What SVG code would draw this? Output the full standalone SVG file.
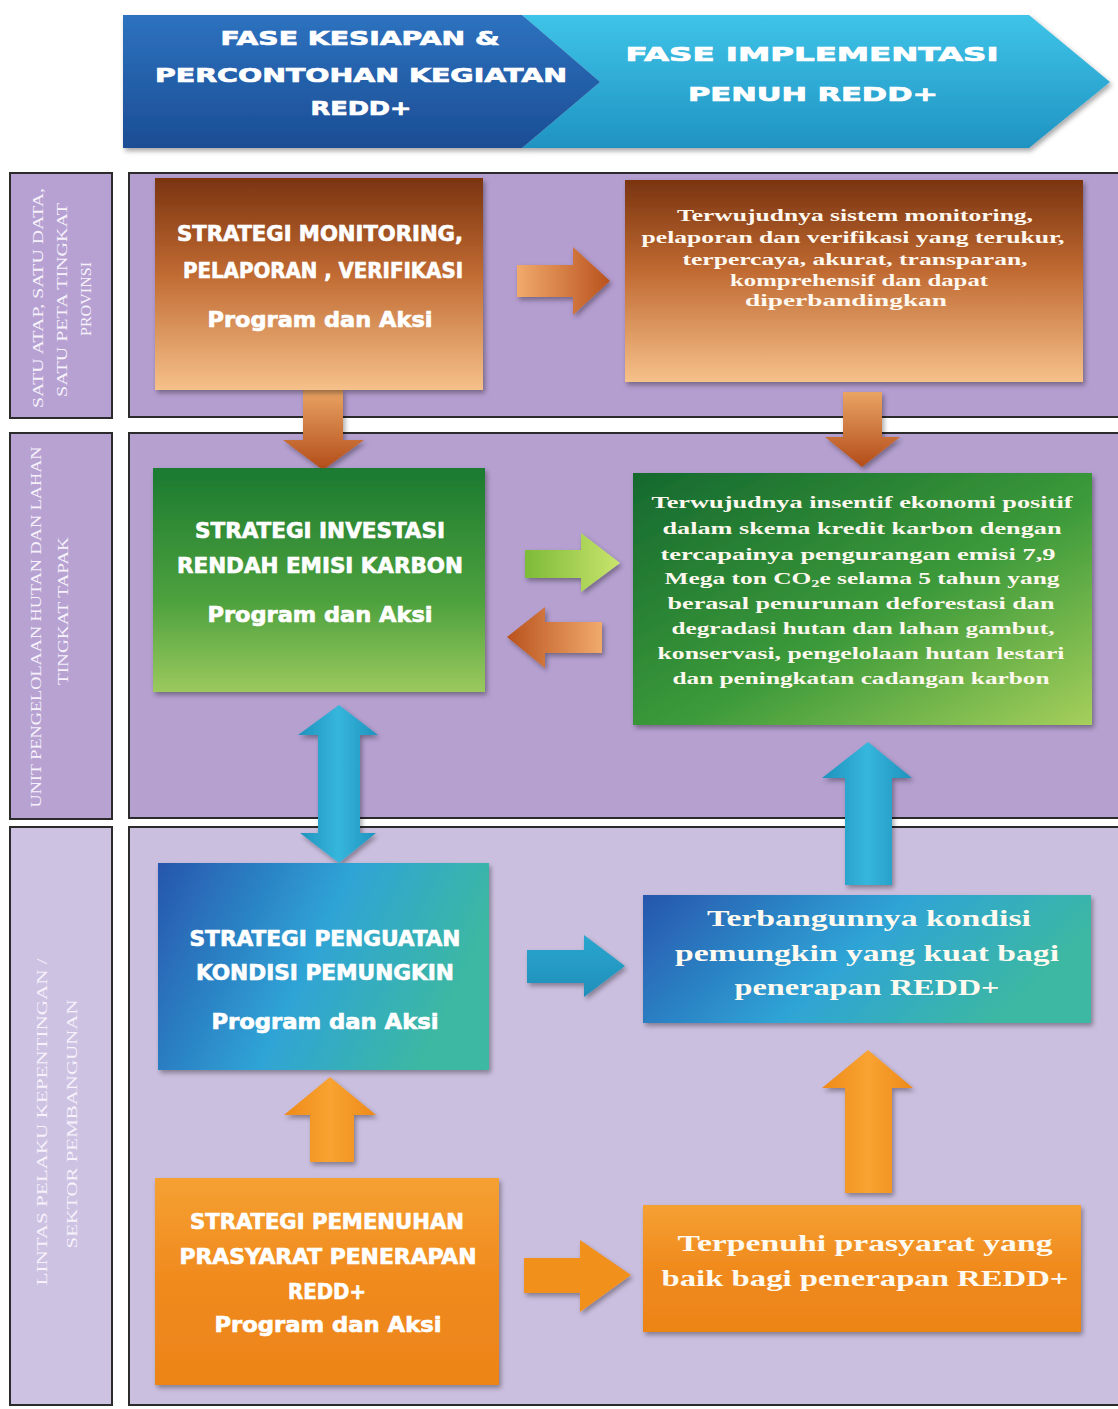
<svg xmlns="http://www.w3.org/2000/svg" width="1118" height="1409" viewBox="0 0 1118 1409">
<defs>
<style>
.hdr{font-family:"DejaVu Sans","Liberation Sans",sans-serif;font-weight:bold;font-size:19px;fill:#ffffff;stroke:#ffffff;stroke-width:0.7;text-anchor:middle}
.side{font-family:"Liberation Serif","DejaVu Serif",serif;font-size:14px;fill:#f6f1fb;text-anchor:middle}
.strat{font-family:"DejaVu Sans Condensed","Liberation Sans Narrow","Liberation Sans",sans-serif;font-stretch:condensed;font-weight:bold;font-size:21px;fill:#ffffff;stroke:#ffffff;stroke-width:0.6;text-anchor:middle}
.res{font-family:"Liberation Serif","DejaVu Serif",serif;font-weight:bold;font-size:17px;fill:#fff8ee;text-anchor:middle}
.resL{font-family:"Liberation Serif","DejaVu Serif",serif;font-weight:bold;font-size:24px;fill:#fffaf0;text-anchor:middle}
.panel{stroke:#2b2b2b;stroke-width:2}
.sidebox{stroke:#2b2b2b;stroke-width:2}
.box{filter:url(#shadow)}
</style>
<filter id="shadow" x="-10%" y="-10%" width="120%" height="125%">
<feDropShadow dx="2" dy="3" stdDeviation="2.5" flood-color="#000" flood-opacity="0.35"/>
</filter>
<linearGradient id="gDark" x1="0" y1="0" x2="0" y2="1"><stop offset="0" stop-color="#2d72bf"/><stop offset="1" stop-color="#1b4d94"/></linearGradient>
<linearGradient id="gLight" x1="0" y1="0" x2="0" y2="1"><stop offset="0" stop-color="#3fc4e8"/><stop offset="1" stop-color="#1f93c2"/></linearGradient>
<linearGradient id="gBrown" x1="0" y1="0" x2="0" y2="1"><stop offset="0" stop-color="#7a3410"/><stop offset="0.45" stop-color="#c06a32"/><stop offset="1" stop-color="#f6c18a"/></linearGradient>
<linearGradient id="gGreenL" x1="0" y1="0" x2="0" y2="1"><stop offset="0" stop-color="#1b7a30"/><stop offset="0.6" stop-color="#4ea23e"/><stop offset="1" stop-color="#9bc95e"/></linearGradient>
<linearGradient id="gGreenR" x1="0" y1="0" x2="1" y2="1"><stop offset="0" stop-color="#15692e"/><stop offset="0.55" stop-color="#3c9a3a"/><stop offset="1" stop-color="#a6cf5c"/></linearGradient>
<linearGradient id="gBlue" x1="0" y1="0" x2="1" y2="0.3"><stop offset="0" stop-color="#2756ad"/><stop offset="0.55" stop-color="#2fa4d6"/><stop offset="1" stop-color="#3cb8a2"/></linearGradient>
<linearGradient id="gOrange" x1="0" y1="0" x2="0" y2="1"><stop offset="0" stop-color="#f5a033"/><stop offset="0.5" stop-color="#f08a1d"/><stop offset="1" stop-color="#ec8418"/></linearGradient>
<linearGradient id="aBrownH" x1="0" y1="0" x2="1" y2="0"><stop offset="0" stop-color="#f1aa6c"/><stop offset="1" stop-color="#b9521d"/></linearGradient>
<linearGradient id="aBrownHL" x1="1" y1="0" x2="0" y2="0"><stop offset="0" stop-color="#f1aa6c"/><stop offset="1" stop-color="#b9521d"/></linearGradient>
<linearGradient id="aBrownV" x1="0" y1="0" x2="0" y2="1"><stop offset="0" stop-color="#e9a463"/><stop offset="1" stop-color="#b34c19"/></linearGradient>
<linearGradient id="aGreen" x1="0" y1="0" x2="1" y2="0"><stop offset="0" stop-color="#7dbb38"/><stop offset="1" stop-color="#c9e46c"/></linearGradient>
<linearGradient id="aBlue" x1="0" y1="0" x2="1" y2="0"><stop offset="0" stop-color="#1f92bd"/><stop offset="0.5" stop-color="#36b6dc"/><stop offset="1" stop-color="#1f92bd"/></linearGradient>
<linearGradient id="aBlueH" x1="0" y1="0" x2="0" y2="1"><stop offset="0" stop-color="#2aa6cf"/><stop offset="1" stop-color="#1f8fb9"/></linearGradient>
<linearGradient id="aOrange" x1="0" y1="0" x2="1" y2="0"><stop offset="0" stop-color="#ee8a1a"/><stop offset="0.5" stop-color="#f8a331"/><stop offset="1" stop-color="#ee8a1a"/></linearGradient>
</defs>

<rect x="0" y="0" width="1118" height="1409" fill="#ffffff"/>

<!-- Header -->
<g id="header" filter="url(#shadow)">
<polygon points="522,15 1029,15 1110,82 1029,148 522,148 600,82" fill="url(#gLight)"/>
<polygon points="123,15 522,15 600,82 522,148 123,148" fill="url(#gDark)"/>
</g>
<g id="header-text">
<text class="hdr" x="360" y="45" textLength="279" lengthAdjust="spacingAndGlyphs">FASE KESIAPAN &amp;</text>
<text class="hdr" x="361" y="82" textLength="412" lengthAdjust="spacingAndGlyphs">PERCONTOHAN KEGIATAN</text>
<text class="hdr" x="361" y="115" textLength="101" lengthAdjust="spacingAndGlyphs">REDD+</text>
<text class="hdr" x="812" y="61" textLength="373" lengthAdjust="spacingAndGlyphs">FASE IMPLEMENTASI</text>
<text class="hdr" x="813" y="101" textLength="250" lengthAdjust="spacingAndGlyphs">PENUH REDD+</text>
</g>

<!-- Panels -->
<g id="panels">
<rect class="panel" x="129" y="173" width="995" height="244" fill="#b49dcf"/>
<rect class="panel" x="129" y="433" width="995" height="385" fill="#b5a0d0"/>
<rect class="panel" x="129" y="827" width="995" height="578" fill="#cbbfdf"/>
</g>

<!-- Side labels -->
<g id="side-1">
<rect class="sidebox" x="10" y="173" width="102" height="245" fill="#b6a1d2"/>
<text class="side" transform="translate(38,298) rotate(-90)" y="5" textLength="220" lengthAdjust="spacingAndGlyphs">SATU  ATAP, SATU DATA,</text>
<text class="side" transform="translate(62,300) rotate(-90)" y="5" textLength="194" lengthAdjust="spacingAndGlyphs">SATU PETA  TINGKAT</text>
<text class="side" transform="translate(86,299) rotate(-90)" y="5" textLength="74" lengthAdjust="spacingAndGlyphs">PROVINSI</text>
</g>
<g id="side-2">
<rect class="sidebox" x="10" y="433" width="102" height="386" fill="#b7a2d2"/>
<text class="side" transform="translate(36,627) rotate(-90)" y="5" textLength="361" lengthAdjust="spacingAndGlyphs">UNIT PENGELOLAAN HUTAN DAN LAHAN</text>
<text class="side" transform="translate(63,611) rotate(-90)" y="5" textLength="148" lengthAdjust="spacingAndGlyphs">TINGKAT TAPAK</text>
</g>
<g id="side-3">
<rect class="sidebox" x="10" y="827" width="102" height="578" fill="#cdc2e2"/>
<text class="side" transform="translate(42,1122) rotate(-90)" y="5" textLength="327" lengthAdjust="spacingAndGlyphs">LINTAS PELAKU KEPENTINGAN /</text>
<text class="side" transform="translate(72,1124) rotate(-90)" y="5" textLength="249" lengthAdjust="spacingAndGlyphs">SEKTOR PEMBANGUNAN</text>
</g>

<!-- Connectors -->
<g id="connectors" filter="url(#shadow)">
<polygon points="517,265 573,265 573,247 610,281 573,315 573,297 517,297" fill="url(#aBrownH)"/>
<polygon points="303,390 343,390 343,440 364,440 323,470 283,440 303,440" fill="url(#aBrownV)"/>
<polygon points="843,392 882,392 882,437 900,437 862,467 825,437 843,437" fill="url(#aBrownV)"/>
<polygon points="525,550 581,550 581,533 620,563 581,592 581,578 525,578" fill="url(#aGreen)"/>
<polygon points="602,622 545,622 545,607 507,637 545,668 545,653 602,653" fill="url(#aBrownHL)"/>
<polygon points="339,705 378,735 360,735 360,833 376,833 339,863 300,833 318,833 318,735 298,735" fill="url(#aBlue)"/>
<polygon points="868,742 912,778 892,778 892,885 845,885 845,778 822,778" fill="url(#aBlue)"/>
<polygon points="527,950 584,950 584,935 625,966 584,997 584,983 527,983" fill="url(#aBlueH)"/>
<polygon points="330,1077 376,1115 354,1115 354,1162 310,1162 310,1115 284,1115" fill="url(#aOrange)"/>
<polygon points="524,1258 580,1258 580,1240 631,1275 580,1312 580,1293 524,1293" fill="#f2901f"/>
<polygon points="868,1050 913,1088 892,1088 892,1193 845,1193 845,1088 822,1088" fill="url(#aOrange)"/>
</g>

<!-- Nodes -->
<g id="strategi-monitoring">
<rect class="box" x="155" y="178" width="328" height="212" fill="url(#gBrown)"/>
<text class="strat" x="320" y="241" textLength="286" lengthAdjust="spacingAndGlyphs">STRATEGI MONITORING,</text>
<text class="strat" x="323" y="278" textLength="280" lengthAdjust="spacingAndGlyphs">PELAPORAN , VERIFIKASI</text>
<text class="strat" x="320" y="327" textLength="225" lengthAdjust="spacingAndGlyphs">Program dan Aksi</text>
</g>

<g id="hasil-monitoring">
<rect class="box" x="625" y="180" width="458" height="202" fill="url(#gBrown)"/>
<text class="res" x="855" y="221" textLength="356" lengthAdjust="spacingAndGlyphs">Terwujudnya sistem monitoring,</text>
<text class="res" x="853" y="243" textLength="423" lengthAdjust="spacingAndGlyphs">pelaporan dan verifikasi yang  terukur,</text>
<text class="res" x="855" y="265" textLength="345" lengthAdjust="spacingAndGlyphs">terpercaya, akurat, transparan,</text>
<text class="res" x="859" y="286" textLength="258" lengthAdjust="spacingAndGlyphs">komprehensif dan dapat</text>
<text class="res" x="846" y="306" textLength="202" lengthAdjust="spacingAndGlyphs">diperbandingkan</text>
</g>

<g id="strategi-investasi">
<rect class="box" x="153" y="468" width="332" height="224" fill="url(#gGreenL)"/>
<text class="strat" x="320" y="538" textLength="250" lengthAdjust="spacingAndGlyphs">STRATEGI INVESTASI</text>
<text class="strat" x="320" y="573" textLength="286" lengthAdjust="spacingAndGlyphs">RENDAH EMISI  KARBON</text>
<text class="strat" x="320" y="622" textLength="225" lengthAdjust="spacingAndGlyphs">Program dan Aksi</text>
</g>

<g id="hasil-investasi">
<rect class="box" x="633" y="473" width="459" height="252" fill="url(#gGreenR)"/>
<text class="res" x="862" y="508" textLength="421" lengthAdjust="spacingAndGlyphs">Terwujudnya insentif  ekonomi  positif</text>
<text class="res" x="862" y="534" textLength="399" lengthAdjust="spacingAndGlyphs">dalam  skema kredit karbon  dengan</text>
<text class="res" x="858" y="560" textLength="395" lengthAdjust="spacingAndGlyphs">tercapainya pengurangan emisi  7,9</text>
<text class="res" x="862" y="584" textLength="395" lengthAdjust="spacingAndGlyphs">Mega ton  CO<tspan font-size="11" dy="3">2</tspan><tspan dy="-3">e  selama 5 tahun yang</tspan></text>
<text class="res" x="861" y="609" textLength="387" lengthAdjust="spacingAndGlyphs">berasal  penurunan deforestasi dan</text>
<text class="res" x="863" y="634" textLength="383" lengthAdjust="spacingAndGlyphs">degradasi hutan dan lahan gambut,</text>
<text class="res" x="861" y="659" textLength="407" lengthAdjust="spacingAndGlyphs">konservasi, pengelolaan hutan lestari</text>
<text class="res" x="861" y="684" textLength="377" lengthAdjust="spacingAndGlyphs">dan peningkatan cadangan karbon</text>
</g>

<g id="strategi-penguatan">
<rect class="box" x="158" y="863" width="331" height="207" fill="url(#gBlue)"/>
<text class="strat" x="325" y="946" textLength="271" lengthAdjust="spacingAndGlyphs">STRATEGI PENGUATAN</text>
<text class="strat" x="325" y="980" textLength="258" lengthAdjust="spacingAndGlyphs">KONDISI PEMUNGKIN</text>
<text class="strat" x="325" y="1029" textLength="227" lengthAdjust="spacingAndGlyphs">Program dan Aksi</text>
</g>

<g id="hasil-penguatan">
<rect class="box" x="643" y="895" width="448" height="128" fill="url(#gBlue)"/>
<text class="resL" x="869" y="926" textLength="324" lengthAdjust="spacingAndGlyphs">Terbangunnya kondisi</text>
<text class="resL" x="867" y="961" textLength="384" lengthAdjust="spacingAndGlyphs">pemungkin yang kuat bagi</text>
<text class="resL" x="867" y="995" textLength="265" lengthAdjust="spacingAndGlyphs">penerapan REDD+</text>
</g>

<g id="strategi-pemenuhan">
<rect class="box" x="155" y="1178" width="344" height="207" fill="url(#gOrange)"/>
<text class="strat" x="327" y="1229" textLength="274" lengthAdjust="spacingAndGlyphs">STRATEGI PEMENUHAN</text>
<text class="strat" x="328" y="1264" textLength="297" lengthAdjust="spacingAndGlyphs">PRASYARAT  PENERAPAN</text>
<text class="strat" x="327" y="1299" textLength="78" lengthAdjust="spacingAndGlyphs">REDD+</text>
<text class="strat" x="328" y="1332" textLength="227" lengthAdjust="spacingAndGlyphs">Program dan Aksi</text>
</g>

<g id="hasil-pemenuhan">
<rect class="box" x="643" y="1205" width="438" height="127" fill="url(#gOrange)"/>
<text class="resL" x="865" y="1251" textLength="375" lengthAdjust="spacingAndGlyphs">Terpenuhi prasyarat yang</text>
<text class="resL" x="865" y="1286" textLength="407" lengthAdjust="spacingAndGlyphs">baik bagi penerapan REDD+</text>
</g>
</svg>
